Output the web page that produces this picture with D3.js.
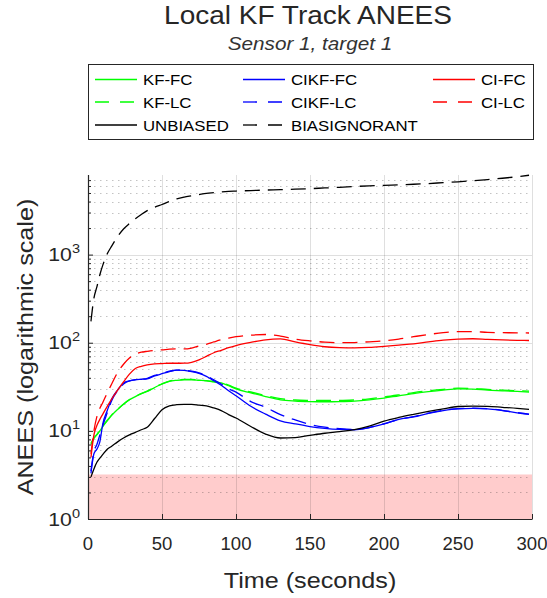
<!DOCTYPE html>
<html>
<head>
<meta charset="utf-8">
<script src="https://cdn.jsdelivr.net/npm/d3@7"></script>
<style>
  html, body { margin: 0; padding: 0; background: #fff; }
  svg { display: block; }
  text { font-family: "Liberation Sans", Arial, Helvetica, sans-serif; fill: #262626; }
</style>
</head>
<body>
<svg id="chart" width="547" height="598"></svg>
<script>
// ---- data ----------------------------------------------------------------
const time = [2, 4, 6, 8, 10, 13, 16, 20, 24, 28, 32, 36, 40, 45, 50, 55, 60, 65, 70, 75,
              80, 85, 90, 95, 100, 110, 120, 130, 140, 150, 160, 170, 180, 190, 200,
              210, 220, 230, 240, 250, 260, 270, 280, 290, 298];

const kfFC = [7.2, 8.3, 9.0, 10.0, 11.2, 13, 15, 17.5, 20, 22.5, 24.5, 26.4, 28, 31, 34,
              36.5, 37.5, 38, 38, 37.5, 37, 36, 35, 32.5, 30, 27, 24.5, 22.5, 21.8, 21.5,
              21.4, 21.5, 21.8, 22.5, 23.5, 25, 26.5, 27.8, 29, 30, 29.8, 29, 28.5, 28, 27.5];
const kfLC = [7.0, 8.2, 9.1, 10.2, 11.4, 13.2, 15.2, 17.6, 20.2, 22.6, 24.6, 26.5, 28.2, 31.2, 34.2,
              36.7, 37.8, 38.3, 38.3, 37.8, 37.2, 36.3, 35.2, 33, 30.5, 27.6, 25.2, 23.2, 22.4, 22.2,
              22.1, 22.2, 22.4, 23.1, 24.2, 25.6, 27.2, 28.5, 29.6, 30.5, 30.3, 29.5, 29, 28.6, 28.2];
const cikfFC = [3.3, 5.5, 6.2, 7.5, 12, 17, 23, 29, 35, 37, 38, 38.5, 39, 42, 44.5,
                47, 49, 48.5, 47, 45, 41.5, 37, 33, 28.5, 25, 19, 15.5, 13, 12, 11.2,
                10.7, 10.4, 10.3, 10.9, 12, 13.5, 14.4, 15.8, 17, 17.8, 18, 17.8, 17, 16, 15.4];
const cikfLC = [3.5, 5.8, 7.0, 9.0, 11.5, 16, 22, 28.5, 34, 37, 38, 38.5, 39.5, 42.5, 45,
                47.5, 49, 48.5, 47.5, 45.5, 42, 38, 34, 30, 27.5, 21.5, 18.5, 15.3, 13.3, 11.8,
                11, 10.6, 10.4, 10.9, 12, 13.5, 14.5, 15.9, 17.1, 17.9, 18.1, 17.9, 17.1, 16.1, 15.5];
const ciFC = [5.0, 9.0, 11.5, 13.5, 15.5, 19, 23, 29, 36, 44, 51, 54, 56, 57.5, 58,
              58.5, 58.5, 58.6, 60, 64, 70, 77, 82, 88, 93, 101, 108, 110.5, 102, 95,
              90, 88, 87.5, 88.5, 91, 94, 97, 102, 107, 110, 111, 109, 107.5, 106.5, 106];
const ciLC = [5.5, 10, 14.5, 18, 21, 27, 34, 46, 57, 67, 74, 78, 80, 82, 83,
              84.5, 85, 85, 87, 92, 96, 102, 108, 113, 117, 122, 124, 119, 110, 105,
              101.5, 100, 100.5, 102.5, 105, 110, 117, 124, 130, 134, 134, 131, 130, 129.5, 129];
const unbiased = [3.0, 3.7, 4.4, 4.9, 5.4, 6.2, 6.7, 7.5, 8.3, 9.0, 9.6, 10.3, 11.0, 13.8, 17.4,
                  19.2, 19.8, 20, 20, 19.6, 19.2, 18.2, 17, 15.3, 14, 11.2, 9.2, 8.3, 8.4, 8.9,
                  9.4, 9.8, 10.3, 11.3, 12.9, 14.2, 15.4, 16.6, 17.8, 18.9, 19.1, 19, 18.5, 18, 17.5];
const biasIgnorant = [175, 320, 430, 590, 760, 1020, 1250, 1600, 1950, 2250, 2550, 2850, 3150, 3450, 3700,
                      4000, 4300, 4500, 4650, 4800, 4950, 5050, 5150, 5220, 5260, 5330, 5400, 5450, 5520, 5600,
                      5700, 5800, 5920, 6030, 6100, 6200, 6280, 6400, 6550, 6700, 6900, 7100, 7350, 7650, 7950];

// consistency band (lower / upper ANEES bound)
const bandLower = 1;
const bandUpper = 3.2;

const xTicks = [0, 50, 100, 150, 200, 250, 300];
const yDecades = [0, 1, 2, 3];

const titleText = "Local KF Track ANEES";
const subtitleText = "Sensor 1, target 1";
const xLabelText = "Time (seconds)";
const yLabelText = "ANEES (logarithmic scale)";

// series in drawing order; legend order given by `slot`
const series = [
  { name: "KF-FC",        values: kfFC,         color: "#00ff00", dashed: false, slot: [0, 0] },
  { name: "KF-LC",        values: kfLC,         color: "#00ff00", dashed: true,  slot: [0, 1] },
  { name: "CIKF-FC",      values: cikfFC,       color: "#0000ff", dashed: false, slot: [1, 0] },
  { name: "CIKF-LC",      values: cikfLC,       color: "#0000ff", dashed: true,  slot: [1, 1] },
  { name: "CI-FC",        values: ciFC,         color: "#ff0000", dashed: false, slot: [2, 0] },
  { name: "CI-LC",        values: ciLC,         color: "#ff0000", dashed: true,  slot: [2, 1] },
  { name: "UNBIASED",     values: unbiased,     color: "#000000", dashed: false, slot: [0, 2] },
  { name: "BIASIGNORANT", values: biasIgnorant, color: "#000000", dashed: true,  slot: [1, 2] }
];

// ---- layout ----------------------------------------------------------------
const plot = { left: 88, right: 532, top: 175, bottom: 519 };
const AXIS = "#262626";
const SX = 1.12;           // horizontal widening of the glyphs
const DASH = "15,8";

const svg = d3.select("#chart");

const x = d3.scaleLinear().domain([0, 300]).range([plot.left, plot.right]);
const y = d3.scaleLog().domain([1, 8000]).range([plot.bottom, plot.top]);

function addText(g, opts) {
  const sx = opts.sx || SX;
  const t = g.append("text")
    .attr("transform", `translate(${opts.x},${opts.y})` + (opts.rotate ? ` rotate(${opts.rotate})` : "") + ` scale(${sx},1)`)
    .attr("text-anchor", opts.anchor || "middle")
    .style("font-size", opts.size + "px");
  if (opts.italic) t.style("font-style", "italic");
  if (opts.fill) t.style("fill", opts.fill);
  if (opts.text !== undefined) t.text(opts.text);
  return t;
}

// ---- consistency band ------------------------------------------------------
svg.append("rect")
  .attr("x", plot.left)
  .attr("y", y(bandUpper))
  .attr("width", plot.right - plot.left)
  .attr("height", y(bandLower) - y(bandUpper))
  .attr("fill", "#ffcccc");

// ---- grid --------------------------------------------------------------------
const grid = svg.append("g");
const minorVals = [];
yDecades.forEach(d => {
  for (let k = 2; k <= 9; k++) {
    const v = k * Math.pow(10, d);
    if (v < 8000) minorVals.push(v);
  }
});
grid.selectAll(".minor").data(minorVals).enter().append("line")
  .attr("x1", plot.left).attr("x2", plot.right)
  .attr("y1", d => Math.round(y(d)) + 0.5).attr("y2", d => Math.round(y(d)) + 0.5)
  .attr("stroke", AXIS).attr("stroke-opacity", 0.28)
  .attr("stroke-width", 1).attr("stroke-dasharray", "1.5,4.5");
grid.selectAll(".hmaj").data(yDecades.map(d => Math.pow(10, d))).enter().append("line")
  .attr("x1", plot.left).attr("x2", plot.right)
  .attr("y1", d => Math.round(y(d)) + 0.5).attr("y2", d => Math.round(y(d)) + 0.5)
  .attr("stroke", AXIS).attr("stroke-opacity", 0.15).attr("stroke-width", 1);
grid.selectAll(".vmaj").data(xTicks).enter().append("line")
  .attr("x1", d => Math.round(x(d)) + 0.5).attr("x2", d => Math.round(x(d)) + 0.5)
  .attr("y1", plot.top).attr("y2", plot.bottom)
  .attr("stroke", AXIS).attr("stroke-opacity", 0.15).attr("stroke-width", 1);

// ---- series ------------------------------------------------------------------
const line = d3.line()
  .x(d => x(d[0]))
  .y(d => y(d[1]))
  .curve(d3.curveMonotoneX);

const lines = svg.append("g");
series.forEach(s => {
  lines.append("path")
    .datum(time.map((t, i) => [t, s.values[i]]))
    .attr("d", line)
    .attr("fill", "none")
    .attr("stroke", s.color)
    .attr("stroke-width", 1.3)
    .attr("stroke-dasharray", s.dashed ? DASH : null);
});

// ---- axes --------------------------------------------------------------------
const xAxis = svg.append("g")
  .attr("transform", `translate(0,${plot.bottom})`)
  .call(d3.axisBottom(x).tickValues(xTicks).tickSizeInner(-5).tickSizeOuter(0).tickFormat(""));
const yAxisMajor = svg.append("g")
  .attr("transform", `translate(${plot.left},0)`)
  .call(d3.axisLeft(y).tickValues(yDecades.map(d => Math.pow(10, d))).tickSizeInner(-5).tickSizeOuter(0).tickFormat(""));
const yAxisMinor = svg.append("g")
  .attr("transform", `translate(${plot.left},0)`)
  .call(d3.axisLeft(y).tickValues(minorVals).tickSizeInner(-3).tickSizeOuter(0).tickFormat(""));
yAxisMinor.select(".domain").remove();
[xAxis, yAxisMajor, yAxisMinor].forEach(a => {
  a.selectAll("path, line").attr("stroke", AXIS);
  a.select(".domain").attr("stroke-width", 1.2);
});
// domain of the left axis spans the full plot height
yAxisMajor.select(".domain").attr("d", `M0.5,${plot.bottom}V${plot.top}`);

// x tick labels
xTicks.forEach(v => addText(svg, { x: x(v), y: 550, text: String(v), size: 17.5, sx: 1.06 }));

// y tick labels (10 with a raised exponent)
yDecades.forEach(d => {
  const t = addText(svg, { x: 80, y: y(Math.pow(10, d)) + 6.5, size: 19, anchor: "end" });
  t.append("tspan").text("10");
  t.append("tspan").attr("dy", -8).style("font-size", "13px").text(String(d));
});

// axis labels
addText(svg, { x: (plot.left + plot.right) / 2, y: 588, text: xLabelText, size: 22.5 });
addText(svg, { x: 33, y: (plot.top + plot.bottom) / 2, rotate: -90, text: yLabelText, size: 22.5 });

// titles
addText(svg, { x: (plot.left + plot.right) / 2 - 2, y: 23.5, text: titleText, size: 25 });
addText(svg, { x: (plot.left + plot.right) / 2, y: 50, text: subtitleText, size: 18.5, italic: true, fill: "#333" });

// ---- legend ------------------------------------------------------------------
const legend = svg.append("g");
legend.append("rect")
  .attr("x", 88.5).attr("y", 64.5).attr("width", 445).attr("height", 75)
  .attr("fill", "#fff").attr("stroke", AXIS).attr("stroke-width", 1);
const colX = [95, 243, 433];
const rowY = [79.5, 102, 125];
series.forEach(s => {
  const lx = colX[s.slot[0]], ly = rowY[s.slot[1]];
  legend.append("line")
    .attr("x1", lx).attr("x2", lx + 42).attr("y1", ly).attr("y2", ly)
    .attr("stroke", s.color).attr("stroke-width", 1.3)
    .attr("stroke-dasharray", s.dashed ? "14,11" : null);
  addText(legend, { x: lx + 48, y: ly + 5.5, text: s.name, size: 15, anchor: "start", fill: "#000" });
});
</script>
</body>
</html>
